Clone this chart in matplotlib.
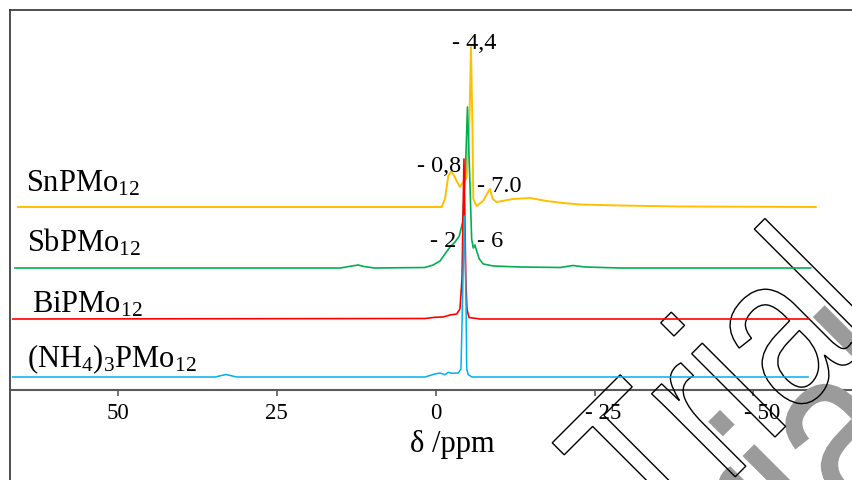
import matplotlib
matplotlib.use("Agg")
import matplotlib.pyplot as plt
from matplotlib.lines import Line2D
from matplotlib.textpath import TextPath
from matplotlib.patches import PathPatch
from matplotlib.font_manager import FontProperties
from matplotlib.transforms import Affine2D, ScaledTranslation

# ---------------- data ----------------
# chemical shift (ppm) / intensity (arbitrary units, baseline = 0)
sn_ppm = [65.7, 37.1, -0.94, -1.46, -1.98, -2.36, -2.77, -3.30, -3.82, -4.34, -4.88,
          -5.32, -5.55, -5.79, -5.92, -6.45, -7.44, -8.07, -8.54, -8.97, -9.60,
          -12.16, -14.84, -17.46, -20.03, -22.7, -29.0, -38.4, -59.8]
sn_int = [0, 0, 0, 8, 31, 35, 33, 26, 20, 25, 29,
          88, 160, 78, 8, 1, 6, 13, 18, 8, 5,
          8, 9, 6, 4, 2.5, 1.5, 0.5, 0]

sb_ppm = [66.2, 15.0, 13.2, 12.2, 11.3, 9.6, 1.7, 0.4, -0.68, -1.46, -2.25, -3.04,
          -3.71, -4.25, -4.69, -5.00, -5.32, -5.66, -5.92, -6.18, -6.45, -6.86,
          -7.49, -9.06, -13.3, -19.6, -21.6, -23.5, -29.0, -59.0]
sb_int = [0, 0, 2, 3, 1.5, 0, 0.5, 3, 7, 14, 21, 26,
          32, 46, 99, 161, 99, 29, 20, 23, 17, 9,
          4, 2, 1, 0.5, 2.5, 1, 0, 0]

bi_ppm = [66.7, 1.7, 0.11, -1.15, -2.25, -3.30, -3.82, -4.14, -4.45, -4.74, -4.92,
          -5.24, -6.97, -58.6]
bi_int = [0, 0.5, 1.7, 2, 4, 5, 10, 40, 160, 40, 10,
          1.5, 0, 0]

nh4_ppm = [66.7, 34.7, 33.0, 31.3, 1.7, 0.11, -0.68, -1.46, -1.98, -2.52, -3.56,
           -3.98, -4.23, -4.50, -4.77, -4.88, -5.13, -5.71, -58.6]
nh4_int = [0, 0, 2.5, 0, 0, 3, 4, 2.3, 4.7, 3.7, 4,
           8, 78, 161, 78, 8, 2.3, 0, 0]

series_names = ["SnPMo$_{12}$", "SbPMo$_{12}$", "BiPMo$_{12}$", "(NH$_4$)$_3$PMo$_{12}$"]
series_colors = ["#FFC000", "#00B050", "#FF0000", "#00B0F0"]
series_offsets = [183, 122, 71, 13]

peak_labels = ["- 4,4", "- 0,8", "- 7.0", "- 2", "- 6"]
xtick_values = [50, 25, 0, -25, -50]
xtick_labels = ["50", "25", "0", "- 25", "- 50"]

# ---------------- style ----------------
plt.rcParams["font.family"] = ["Liberation Serif", "DejaVu Serif"]
plt.rcParams["mathtext.fontset"] = "custom"
plt.rcParams["mathtext.rm"] = "Liberation Serif"
plt.rcParams["mathtext.it"] = "Liberation Serif:italic"
plt.rcParams["mathtext.bf"] = "Liberation Serif:bold"

W, H = 853, 481
DPI = 100
fig = plt.figure(figsize=(W / DPI, H / DPI), dpi=DPI)
fig.patch.set_facecolor("white")

def fx(px):
    return px / W

def fy(py):
    return 1 - py / H

ax_left, ax_right, ax_top, ax_bot = 12, 853, 20, 391
ax = fig.add_axes([fx(ax_left), fy(ax_bot), (ax_right - ax_left) / W, (ax_bot - ax_top) / H])
ax.set_facecolor("none")

for s in ["left", "right", "top"]:
    ax.spines[s].set_visible(False)
ax.spines["bottom"].set_color("#5a5a5a")
ax.spines["bottom"].set_linewidth(1.5)
ax.set_yticks([])
ax.set_xticks(xtick_values)
ax.set_xticklabels(xtick_labels)
ax.tick_params(axis="x", direction="out", length=4, width=1.2, color="#5a5a5a",
               labelsize=16.5, pad=5, labelcolor="black")
# negative labels sit a little to the right of their ticks in the original
for tick, val in zip(ax.xaxis.get_major_ticks(), xtick_values):
    if val < 0:
        tick.label1.set_transform(tick.label1.get_transform()
                                  + ScaledTranslation(9 / DPI, 0, fig.dpi_scale_trans))

ax.set_xlabel("δ /ppm", fontsize=22, va="baseline")
ax.xaxis.set_label_coords((452 - ax_left) / (ax_right - ax_left),
                          (ax_bot - 452) / (ax_bot - ax_top))

all_ppm = [sn_ppm, sb_ppm, bi_ppm, nh4_ppm]
all_int = [sn_int, sb_int, bi_int, nh4_int]
widths = [1.4, 1.2, 1.2, 1.1]
for ppm, inten, col, off, lw in zip(all_ppm, all_int, series_colors, series_offsets, widths):
    ax.plot(ppm, [v + off for v in inten], color=col, lw=lw, zorder=3)

# series names
name_pos = [(26, 192), (27, 252), (32, 313), (27, 367)]
for name, (px, py) in zip(series_names, name_pos):
    fig.text(fx(px), fy(py), name, fontsize=22, ha="left", va="baseline")

# peak annotations
ann_pos = [(452, 49), (417, 172), (477, 192), (430, 247), (477, 247)]
for lab, (px, py) in zip(peak_labels, ann_pos):
    fig.text(fx(px), fy(py), lab, fontsize=17.5, ha="left", va="baseline")

# page frame (top and left edges visible)
fig.add_artist(Line2D([fx(10), 1.0], [fy(11), fy(11)], transform=fig.transFigure,
                      color="#303030", lw=1.2))
fig.add_artist(Line2D([fx(10), fx(10)], [0.0, fy(11)], transform=fig.transFigure,
                      color="#303030", lw=1.2))

# "Trial" watermark (vertically stretched sans text, rotated 45 degrees)
tp = TextPath((0, 0), "Trial", size=1, prop=FontProperties(family="Liberation Sans"))

def wm_transform(em_x, em_y, ox, oy):
    return (Affine2D().scale(em_x / DPI, em_y / DPI).rotate_deg(45)
            .translate(ox / DPI, (H - oy) / DPI) + fig.dpi_scale_trans)

gray = PathPatch(tp, facecolor="#9b9b9b", edgecolor="none",
                 transform=wm_transform(190, 247, 704, 680), zorder=2.6, clip_on=False)
outline = PathPatch(tp, facecolor="none", edgecolor="black", lw=1.0,
                    transform=wm_transform(170, 223, 658, 555), zorder=2.7, clip_on=False)
ax.add_artist(gray)
ax.add_artist(outline)

ax.set_xlim(66.66, -65.66)
ax.set_ylim(0, ax_bot - ax_top)

fig.savefig("out.png", dpi=DPI)
